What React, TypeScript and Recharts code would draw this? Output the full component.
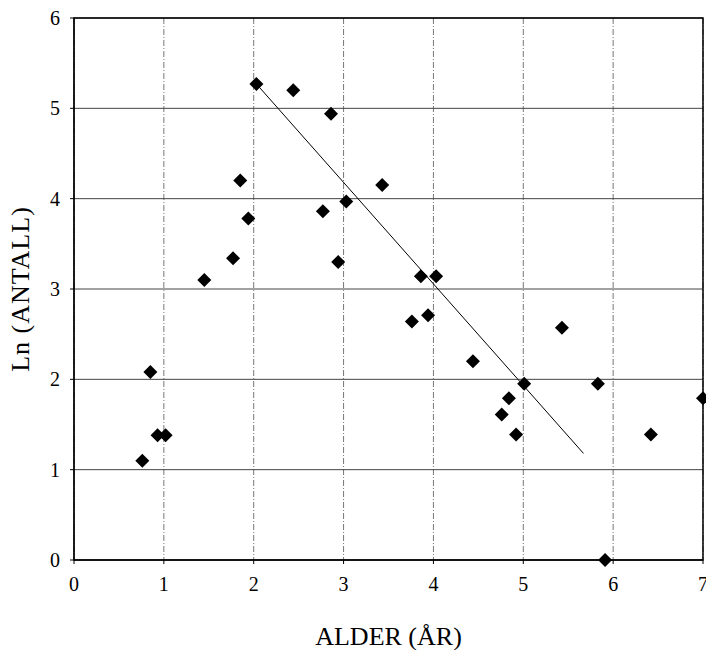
import React from 'react';
import {
  ScatterChart,
  Scatter,
  XAxis,
  YAxis,
  CartesianGrid,
  ReferenceArea,
  ReferenceLine,
} from 'recharts';

const alder = [
  0.76, 0.85, 0.93, 1.02, 1.45, 1.77, 1.85, 1.94, 2.03, 2.44, 2.86, 2.77, 3.03, 2.94,
  3.43, 3.86, 4.03, 3.76, 3.94, 5.43, 4.44, 5.01, 5.83, 4.84, 4.76, 4.92, 6.42, 7.0, 5.91,
];
const lnAntall = [
  1.1, 2.08, 1.38, 1.38, 3.1, 3.34, 4.2, 3.78, 5.27, 5.2, 4.94, 3.86, 3.97, 3.3,
  4.15, 3.14, 3.14, 2.64, 2.71, 2.57, 2.2, 1.95, 1.95, 1.79, 1.61, 1.39, 1.39, 1.79, 0,
];
const trendX = [2.03, 5.67];
const trendY = [5.27, 1.18];
const xTicks = [0, 1, 2, 3, 4, 5, 6, 7];
const yTicks = [0, 1, 2, 3, 4, 5, 6];

const points = alder.map((x, i) => ({ x, y: lnAntall[i] }));
const trend = trendX.map((x, i) => ({ x, y: trendY[i] }));

const font = 'Liberation Serif';

const Diamond = (props: any) => {
  const { cx, cy } = props;
  const r = 7;
  return (
    <polygon
      points={`${cx},${cy - r} ${cx + r},${cy} ${cx},${cy + r} ${cx - r},${cy}`}
      fill="#000"
    />
  );
};

const App: React.FC = () => {
  return (
    <div
      style={{
        position: 'absolute',
        left: 0,
        top: 0,
        width: 706,
        height: 650,
        overflow: 'hidden',
        background: '#fff',
        fontFamily: font,
      }}
    >
      <ScatterChart
        width={706}
        height={650}
        margin={{ top: 18, right: 3, left: 0, bottom: 5 }}
        style={{ fontFamily: font, overflow: 'visible' }}
      >
        <CartesianGrid
          horizontal={false}
          stroke="#777"
          strokeDasharray="6 2 1 2"
        />
        <CartesianGrid vertical={false} stroke="#444" />
        <XAxis
          type="number"
          dataKey="x"
          domain={[0, 7]}
          ticks={xTicks}
          interval={0}
          height={85}
          tickSize={4}
          tickMargin={13}
          stroke="#000"
          tick={{ fill: '#000', fontSize: 20, fontFamily: font }}
          label={{
            value: 'ALDER (ÅR)',
            position: 'insideBottom',
            offset: 0,
            style: { fill: '#000', fontSize: 26, fontFamily: font },
          }}
        />
        <YAxis
          type="number"
          dataKey="y"
          domain={[0, 6]}
          ticks={yTicks}
          interval={0}
          width={74}
          tickSize={4}
          tickMargin={10}
          stroke="#000"
          tick={{ fill: '#000', fontSize: 20, fontFamily: font }}
          label={{
            value: 'Ln (ANTALL)',
            angle: -90,
            position: 'insideLeft',
            offset: 20,
            style: {
              fill: '#000',
              fontSize: 26,
              fontFamily: font,
              textAnchor: 'middle',
              letterSpacing: 1,
            },
          }}
        />
        <ReferenceArea x1={0} x2={7} y1={0} y2={6} fill="none" stroke="#000" strokeWidth={1.5} />
        <ReferenceLine
          segment={[trend[0], trend[1]]}
          stroke="#000"
          strokeWidth={1}
        />
        <Scatter data={points} shape={<Diamond />} isAnimationActive={false} />
      </ScatterChart>
    </div>
  );
};

export default App;
